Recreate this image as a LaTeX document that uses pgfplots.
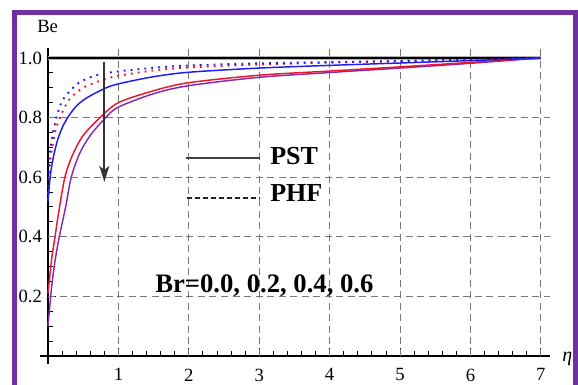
\documentclass[border=0pt]{standalone}
\usepackage{pgfplots}
\pgfplotsset{compat=1.18}
\usepackage{fontspec}
\setmainfont{Liberation Serif}
\usetikzlibrary{arrows.meta}
\definecolor{frm}{RGB}{112,48,160}
\definecolor{cblue}{RGB}{30,30,240}
\definecolor{cred}{RGB}{240,20,40}
\definecolor{cpurp}{RGB}{140,40,170}
\definecolor{gridc}{RGB}{120,120,120}
\begin{document}
\begin{tikzpicture}[x=0.75pt,y=0.75pt]
\useasboundingbox (0,0) rectangle (578,385);
\fill[white] (0,0) rectangle (578,385);
\draw[frm, line width=3.5pt] (14.3,-10) -- (14.3,372.5) -- (575.6,372.5) -- (575.6,-10);
\begin{axis}[
  at={(30pt,15.75pt)}, anchor=south west,
  scale only axis, width=382.5pt, height=237.15pt,
  xmin=-0.114, xmax=7.13, ymin=-0.027, ymax=1.034,
  axis lines=middle, axis line style={-, line width=0.9pt, black},
  xtick={1,2,3,4,5,6,7}, xticklabels={1,2,3,4,5,6,7},
  ytick={0.2,0.4,0.6,0.8,1.0}, yticklabels={0.2,0.4,0.6,0.8,1.0},
  minor xtick={0.2,0.4,0.6,0.8,1.2,1.4,1.6,1.8,2.2,2.4,2.6,2.8,3.2,3.4,3.6,3.8,4.2,4.4,4.6,4.8,5.2,5.4,5.6,5.8,6.2,6.4,6.6,6.8},
  minor ytick={0.05,0.1,0.15,0.25,0.3,0.35,0.45,0.5,0.55,0.65,0.7,0.75,0.85,0.9,0.95},
  tick align=inside, major tick length=6pt, minor tick length=4pt,
  tick style={black, line width=0.7pt},
  every tick label/.append style={font=\fontsize{14}{14}\selectfont, text=black},
  xticklabel style={yshift=-6pt},
  yticklabel style={xshift=-1pt},
]
% grid
\foreach \gx in {1,2,3,4,5,6,7} {
  \edef\tmp{\noexpand\draw[gridc, line width=0.8pt, dash pattern=on 5.25pt off 3.4pt] (axis cs:\gx,0) -- (axis cs:\gx,1.034);}
  \tmp
}
\foreach \gy in {0.2,0.4,0.6,0.8} {
  \edef\tmp{\noexpand\draw[gridc, line width=0.8pt, dash pattern=on 5.25pt off 3.4pt] (axis cs:0,\gy) -- (axis cs:7.13,\gy);}
  \tmp
}
\draw[gray!60, line width=2.5pt] (axis cs:0,1) -- (axis cs:7.0,1);
% Br = 0.0
\addplot[black, line width=1.2pt] coordinates {(0,1) (7.0,1)};
% PHF dotted
\addplot[cred, line width=1.4pt, dash pattern=on 1.4pt off 3.8pt, smooth, tension=0.5] coordinates {
(0,0.52) (0.03,0.65) (0.1,0.75) (0.17,0.8) (0.3,0.86) (0.5,0.9) (0.8,0.928) (1,0.94) (1.5,0.958) (2,0.968) (3,0.978) (4,0.984) (5,0.989) (6,0.994) (7,1)};
\addplot[cblue, line width=1.4pt, dash pattern=on 1.4pt off 3.8pt, smooth, tension=0.5] coordinates {
(0,0.52) (0.02,0.67) (0.1,0.78) (0.2,0.855) (0.4,0.91) (0.6,0.935) (0.8,0.948) (1,0.955) (1.5,0.967) (2,0.975) (3,0.982) (4,0.986) (5,0.99) (6,0.994) (7,1)};
% PST solid
\addplot[cpurp, line width=1.1pt, smooth, tension=0.5] coordinates {
(0,0.10) (0.03,0.18) (0.06,0.25) (0.1,0.32) (0.16,0.40) (0.25,0.5) (0.33,0.6) (0.45,0.68) (0.6,0.74) (0.82,0.8) (1,0.835) (1.5,0.88) (2,0.907) (3,0.935) (4,0.951) (5,0.966) (6,0.982) (7,1)};
\addplot[cred, line width=1.1pt, smooth, tension=0.5] coordinates {
(0,0.21) (0.03,0.28) (0.06,0.34) (0.1,0.40) (0.15,0.48) (0.24,0.6) (0.35,0.675) (0.5,0.74) (0.74,0.8) (1,0.85) (1.5,0.89) (2,0.917) (3,0.942) (4,0.956) (5,0.97) (6,0.985) (7,1)};
\addplot[cblue, line width=1.1pt, smooth, tension=0.5] coordinates {
(0,0.52) (0.03,0.6) (0.07,0.66) (0.13,0.72) (0.2,0.765) (0.28,0.8) (0.4,0.838) (0.55,0.866) (0.8,0.897) (1,0.913) (1.5,0.937) (2,0.952) (3,0.966) (4,0.975) (5,0.983) (6,0.991) (7,1)};
% arrow
\draw[black!80, line width=1.4pt, -{Stealth[length=12pt,width=7.5pt,inset=3pt]}] (axis cs:0.8,0.985) -- (axis cs:0.8,0.584);
% legend lines
\draw[black!75, line width=1.1pt] (axis cs:1.96,0.664) -- (axis cs:3.01,0.664);
\draw[black!85, line width=1.1pt, dash pattern=on 3.8pt off 2.2pt] (axis cs:1.98,0.530) -- (axis cs:3.01,0.530);
\end{axis}
\node[anchor=base west, inner sep=0pt, font=\fontsize{19.5}{20}\selectfont\bfseries] at (270,220) {PST};
\node[anchor=base west, inner sep=0pt, font=\fontsize{19.5}{20}\selectfont\bfseries] at (270,183) {PHF};
\node[anchor=base west, inner sep=0pt, font=\fontsize{20}{20}\selectfont\bfseries] at (155,92) {Br=0.0, 0.2, 0.4, 0.6};
\node[anchor=base west, inner sep=0pt, font=\fontsize{14}{14}\selectfont] at (37,352) {Be};
\node[anchor=base west, inner sep=0pt, font=\fontsize{15}{15}\selectfont\itshape] at (562,23) {η};
\end{tikzpicture}
\end{document}
